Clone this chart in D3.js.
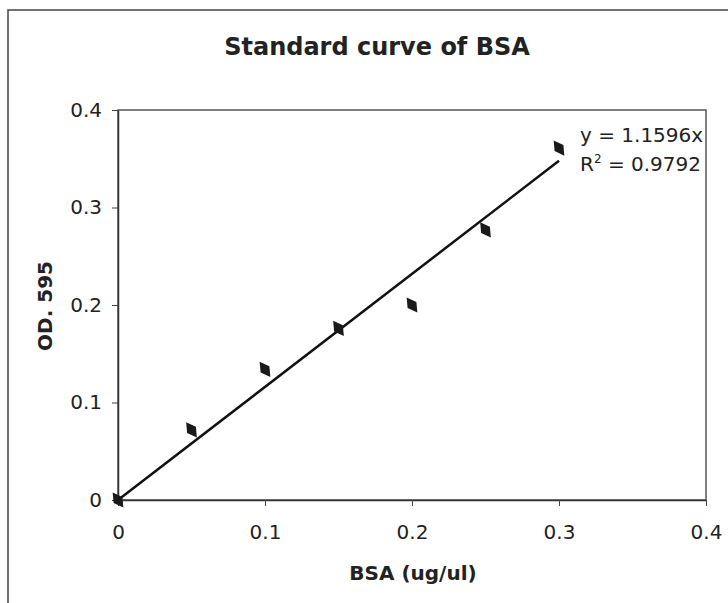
<!DOCTYPE html>
<html>
<head>
<meta charset="utf-8">
<script src="https://cdn.jsdelivr.net/npm/d3@7"></script>
<style>
  body { margin: 0; background: #fff; }
  text { font-family: "DejaVu Sans", Verdana, sans-serif; fill: #222; }
</style>
</head>
<body>
<svg id="chart" width="728" height="603"></svg>
<script>
// valores
const bsa = [0, 0.05, 0.1, 0.15, 0.2, 0.25, 0.3];
const od595 = [0, 0.072, 0.134, 0.176, 0.2, 0.277, 0.361];
const xTicks = [0, 0.1, 0.2, 0.3, 0.4];
const yTicks = [0, 0.1, 0.2, 0.3, 0.4];
const pendiente = 1.1596;
const r2 = 0.9792;

const svg = d3.select("#chart");
const margin = { top: 110, right: 22, bottom: 103, left: 118 };
const width = 728, height = 603;
const fmt = d => d === 0 ? "0" : d3.format(".1f")(d);

// borde exterior
svg.append("rect")
    .attr("x", 8).attr("y", 10)
    .attr("width", 740).attr("height", 620)
    .attr("fill", "none")
    .attr("stroke", "#444")
    .attr("stroke-width", 1.5);

const x = d3.scaleLinear().domain([0, 0.4]).range([margin.left, width - margin.right]);
const y = d3.scaleLinear().domain([0, 0.4]).range([height - margin.bottom, margin.top]);

svg.append("clipPath").attr("id", "recorte")
    .append("rect")
    .attr("x", 0).attr("y", 0)
    .attr("width", x(0.4)).attr("height", height);

// ecuacion (queda cortada por el marco, como en el original)
const eq = svg.append("g")
    .attr("clip-path", "url(#recorte)")
    .append("g")
    .attr("transform", "translate(580,0)");
eq.append("text")
    .attr("y", 142)
    .style("font-size", "20px")
    .text(`y = ${pendiente}x`);
const r = eq.append("text")
    .attr("y", 171)
    .style("font-size", "20px");
r.append("tspan").text("R");
r.append("tspan").attr("dy", -8).style("font-size", "12px").text("2");
r.append("tspan").attr("dy", 8).text(` = ${r2}`);

// marco del area de trazado
svg.append("rect")
    .attr("x", x(0)).attr("y", y(0.4))
    .attr("width", x(0.4) - x(0)).attr("height", y(0) - y(0.4))
    .attr("fill", "none")
    .attr("stroke", "#555")
    .attr("stroke-width", 1.5);

// Eje X
const ejeX = svg.append("g")
    .attr("transform", `translate(0,${y(0)})`)
    .call(d3.axisBottom(x).tickValues(xTicks).tickFormat(fmt).tickSize(6).tickSizeOuter(0).tickPadding(19));
ejeX.select(".domain").attr("stroke", "#333").attr("stroke-width", 1.5);
ejeX.selectAll(".tick line").attr("stroke", "#444");
ejeX.selectAll("text").style("font-size", "20px").attr("fill", "#222");

// Eje Y
const ejeY = svg.append("g")
    .attr("transform", `translate(${x(0)},0)`)
    .call(d3.axisLeft(y).tickValues(yTicks).tickFormat(fmt).tickSize(6).tickSizeOuter(0).tickPadding(10));
ejeY.select(".domain").attr("stroke", "#333").attr("stroke-width", 1.5);
ejeY.selectAll(".tick line").attr("stroke", "#444");
ejeY.selectAll("text").style("font-size", "20px").attr("fill", "#222");

// linea de tendencia
svg.append("line")
    .attr("x1", x(0)).attr("y1", y(0))
    .attr("x2", x(0.3)).attr("y2", y(pendiente * 0.3))
    .attr("stroke", "#111")
    .attr("stroke-width", 2.5);

// puntos
const puntos = bsa.map((d, i) => ({ x: d, y: od595[i] }));
svg.selectAll("path.punto")
    .data(puntos)
    .join("path")
    .attr("class", "punto")
    .attr("transform", d => `translate(${x(d.x)},${y(d.y)}) rotate(-35)`)
    .attr("d", d3.symbol().type(d3.symbolDiamond).size(100))
    .attr("fill", "#1a1a1a");

// titulo
svg.append("text")
    .attr("x", 377).attr("y", 55)
    .attr("text-anchor", "middle")
    .style("font-size", "24px")
    .style("font-weight", "bold")
    .text("Standard curve of BSA");

// titulos de ejes
svg.append("text")
    .attr("x", 413).attr("y", 580)
    .attr("text-anchor", "middle")
    .style("font-size", "20px")
    .style("font-weight", "bold")
    .text("BSA (ug/ul)");

svg.append("text")
    .attr("transform", "translate(52,306) rotate(-90)")
    .attr("text-anchor", "middle")
    .style("font-size", "20px")
    .style("font-weight", "bold")
    .text("OD. 595");
</script>
</body>
</html>
